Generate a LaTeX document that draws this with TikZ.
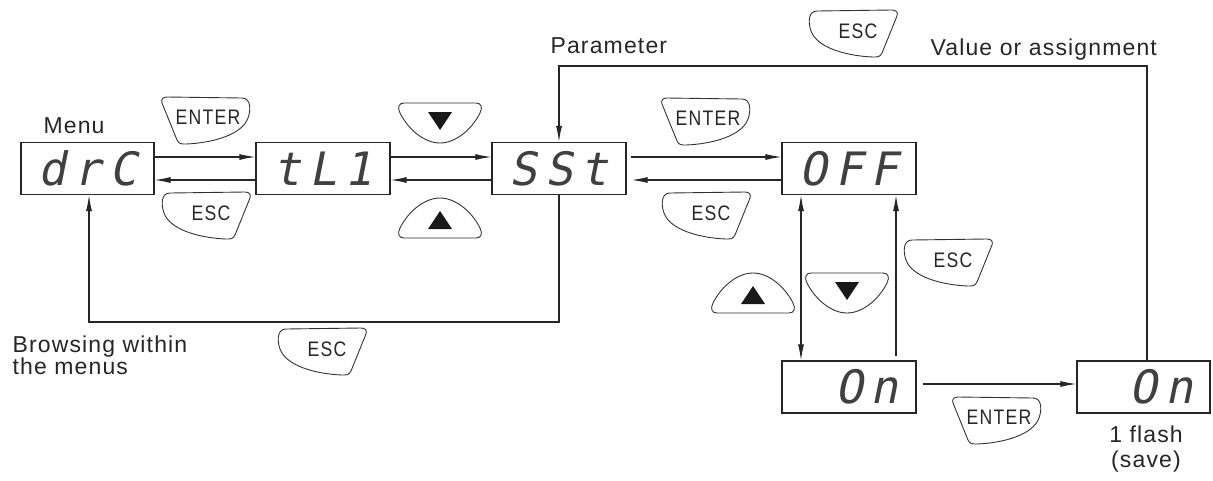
\documentclass[tikz,border=0pt]{standalone}
\usepackage{fontspec}
\setmainfont{Liberation Sans}
\newfontfamily\lblfont[LetterSpace=5]{Liberation Sans}
\newfontfamily\btnfont[FakeStretch=0.84,LetterSpace=6]{Liberation Sans}
\newfontfamily\segfont[FakeSlant=0.2,LetterSpace=17]{DejaVu Sans Mono}
\usetikzlibrary{arrows.meta}
\tikzset{
  disp/.style={draw, line width=1.2pt, minimum width=134pt, minimum height=52pt, inner sep=0pt,
    font=\segfont\fontsize{46}{46}\selectfont, text=black!75},
  arr/.style={-{Latex[length=16pt,width=6pt]}},
  darr/.style={{Latex[length=16pt,width=6pt]}-{Latex[length=16pt,width=6pt]}},
  lbl/.style={font=\lblfont\fontsize{23}{22}\selectfont, inner sep=0pt, text=black!85},
  btntxt/.style={font=\btnfont\fontsize{21}{21}\selectfont, inner sep=0pt, text=black!85},
  btnline/.style={line width=0.9pt, draw=black!80},
  escbtn/.pic={
    \draw[btnline] (-36,-22) -- (39,-23) .. controls (44,-23) and (45,-20) .. (44,-17)
      -- (29,20) .. controls (27,24) and (25,24) .. (20,24)
      .. controls (-6,23) and (-36,15) .. (-42,-2)
      .. controls (-45,-10) and (-45,-22) .. (-36,-22) -- cycle;
    \node[btntxt] (-t) at (5,-2) {ESC};
  },
  enterbtn/.pic={
    \draw[btnline] (36,-22) -- (-39,-23) .. controls (-44,-23) and (-45,-20) .. (-44,-17)
      -- (-29,20) .. controls (-27,24) and (-25,24) .. (-20,24)
      .. controls (6,23) and (36,15) .. (42,-2)
      .. controls (45,-10) and (45,-22) .. (36,-22) -- cycle;
    \node[btntxt] (-t) at (2,-3) {ENTER};
  },
  downbtn/.pic={
    \draw[btnline] (-36,-20) -- (36,-20) .. controls (41,-20) and (43,-16) .. (40,-10)
      .. controls (32,6) and (16,20) .. (0,20) .. controls (-16,20) and (-32,6) .. (-40,-10)
      .. controls (-43,-16) and (-41,-20) .. (-36,-20) -- cycle;
    \fill[black!90] (-12,-11) -- (12,-11) -- (0,7) -- cycle;
  },
  upbtn/.pic={
    \draw[btnline] (-36,20) -- (36,20) .. controls (41,20) and (43,16) .. (40,10)
      .. controls (32,-6) and (16,-20) .. (0,-20) .. controls (-16,-20) and (-32,-6) .. (-40,10)
      .. controls (-43,16) and (-41,20) .. (-36,20) -- cycle;
    \fill[black!90] (-12,11) -- (12,11) -- (0,-7) -- cycle;
  }
}
\begin{document}
\begin{tikzpicture}[x=1pt,y=-1pt,line width=1.1pt,draw=black!85]
\useasboundingbox (0,0) rectangle (1213,480);

% displays
\node[disp, minimum width=133pt] (drC) at (87.5,168.5) {drC};
\node[disp] (tL1) at (323,168.5) {tL1};
\node[disp] (SSt) at (559,168.5) {SSt};
\node[disp] (OFF) at (849,168.5) {OFF};
\node[disp] (On1) at (849,387) {\ On};
\node[disp, minimum width=133pt] (On2) at (1143.5,387) {\ On};

% labels
\node[lbl, anchor=base west] (menu) at (43,133) {Menu};
\node[lbl, anchor=base west] (param) at (550,53) {Parameter};
\node[lbl, anchor=base west] (value) at (930,55) {Value or assignment};
\node[lbl, anchor=base west, align=left] (browse) at (12,374) {Browsing within\\the menus};
\node[lbl, anchor=base, align=center, font=\lblfont\fontsize{23}{25}\selectfont] (flash) at (1146,467) {1 flash\\(save)};

% buttons
\pic (enterA) at (206,120) {enterbtn};
\pic (escA) at (206,215) {escbtn};
\pic (downA) at (440,123) {downbtn};
\pic (upA) at (440,218) {upbtn};
\pic (enterB) at (706,121) {enterbtn};
\pic (escB) at (706,215) {escbtn};
\pic (escTop) at (853,33) {escbtn};
\pic (escR) at (948,262) {escbtn};
\pic (upB) at (753,293) {upbtn};
\pic (downB) at (847,293) {downbtn};
\pic (enterC) at (997,420) {enterbtn};
\pic (escBot) at (322,351) {escbtn};

% connectors
\coordinate (bl) at (0,322);
\coordinate (tl) at (0,66);
\draw[arr] ([yshift=11.5pt]drC.east) -- ([yshift=11.5pt]tL1.west);
\draw[arr] ([yshift=-11.5pt]tL1.west) -- ([yshift=-11.5pt]drC.east);
\draw[arr] ([yshift=11.5pt]tL1.east) -- ([yshift=11.5pt]SSt.west);
\draw[arr] ([yshift=-11.5pt]SSt.west) -- ([yshift=-11.5pt]tL1.east);
\draw[arr] ([xshift=4pt,yshift=11.5pt]SSt.east) -- ([yshift=11.5pt]OFF.west);
\draw[arr] ([yshift=-11.5pt]OFF.west) -- ([xshift=5pt,yshift=-11.5pt]SSt.east);
\draw[arr] (SSt.south) -- (SSt.south |- bl) -| ([xshift=1.5pt]drC.south);
\draw[arr] ([xshift=3.5pt]On2.north) -- ([xshift=3.5pt]On2.north |- tl) -- (SSt.north |- tl) -- (SSt.north);
\draw[darr] ([xshift=-48pt]OFF.south) -- ([xshift=-48pt]On1.north);
\draw[arr] ([xshift=47pt,yshift=4pt]On1.north) -- ([xshift=47pt]OFF.south);
\draw[arr] ([xshift=6pt,yshift=3pt]On1.east) -- ([yshift=3pt]On2.west);
\end{tikzpicture}
\end{document}
